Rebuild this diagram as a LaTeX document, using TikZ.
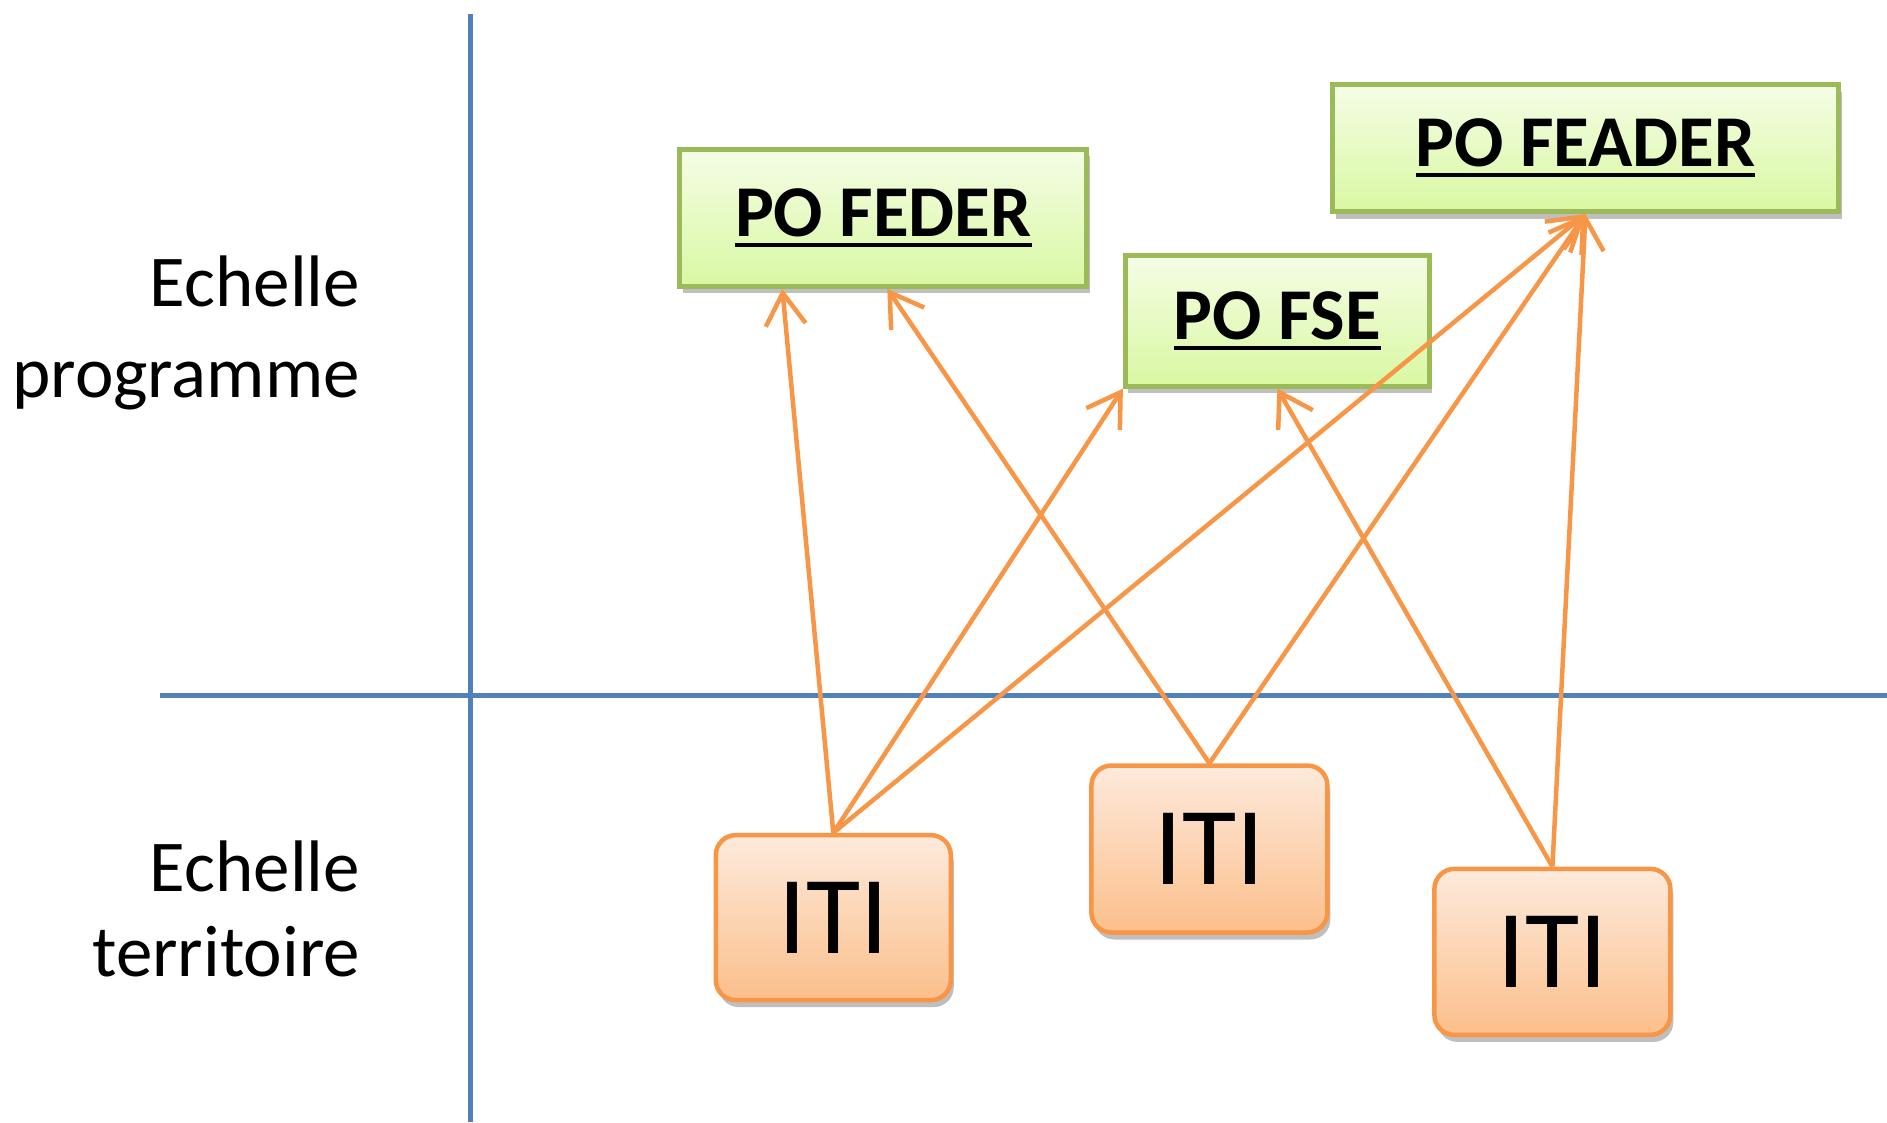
\documentclass[tikz,border=0pt]{standalone}
\usepackage{fontspec}
\setmainfont{Carlito}
\usetikzlibrary{arrows.meta,shadows}

\definecolor{axisblue}{HTML}{4F81BD}
\definecolor{progborder}{HTML}{9BBB59}
\definecolor{progtop}{HTML}{F5FDE6}
\definecolor{progbot}{HTML}{D9F8A2}
\definecolor{itiborder}{HTML}{F79646}
\definecolor{ititop}{HTML}{FDEADC}
\definecolor{itibot}{HTML}{FBBF8B}
\definecolor{linkorange}{HTML}{F79646}

% thick underline for the programme titles
\newcommand\thickul[1]{\leavevmode\vtop{\hbox{#1}\kern 6pt\hrule height 4.5pt}}

\tikzset{
  axis/.style={draw=axisblue, line width=4.5pt},
  scalelabel/.style={anchor=base east, inner sep=0pt, font=\fontsize{73}{86}\selectfont},
  progbox/.style={rectangle, draw=progborder, line width=5pt,
    top color=progtop, bottom color=progbot,
    inner sep=0pt, font=\fontsize{73}{86}\selectfont\bfseries,
    drop shadow={shadow xshift=3pt, shadow yshift=-7pt, opacity=0.25, fill=black}},
  itibox/.style={rectangle, rounded corners=20pt, draw=itiborder, line width=4.5pt,
    top color=ititop, bottom color=itibot,
    inner sep=0pt, font=\fontsize{111}{120}\selectfont,
    drop shadow={shadow xshift=3pt, shadow yshift=-7pt, opacity=0.25, fill=black}},
  link/.style={draw=linkorange, line width=4.5pt,
    -{Straight Barb[length=32pt,width=40pt,line width=4.5pt]}},
}

\begin{document}
\begin{tikzpicture}[x=1pt,y=-1pt]
\useasboundingbox (0,0) rectangle (1887,1122);

% axes
\coordinate (vtop) at (470.5,14);
\coordinate (vbot) at (470.5,1122);
\coordinate (hleft) at (160,695.6);
\coordinate (hright) at (1887,695.6);
\draw[axis] (vtop) -- (vbot);
\draw[axis] (hleft) -- (hright);

% scale labels
\node[scalelabel] (progA) at (360,306) {Echelle};
\node[scalelabel] (progB) at (360,397) {programme};
\node[scalelabel] (terrA) at (360,891) {Echelle};
\node[scalelabel] (terrB) at (360,976) {territoire};

% operational programmes
\node[progbox, minimum width=407pt, minimum height=137pt] (feder) at (883.3,217.8) {\thickul{PO FEDER}};
\node[progbox, minimum width=304pt, minimum height=131pt] (fse) at (1277.4,320.7) {\thickul{PO FSE}};
\node[progbox, minimum width=506pt, minimum height=127pt] (feader) at (1585.5,148) {\thickul{PO FEADER}};

% territorial investments
\node[itibox, minimum width=235pt, minimum height=165pt] (iti1) at (833.3,917.6) {ITI};
\node[itibox, minimum width=236pt, minimum height=167pt] (iti2) at (1209.4,849) {ITI};
\node[itibox, minimum width=236pt, minimum height=166pt] (iti3) at (1552.4,951.9) {ITI};

% links
\draw[link] (iti1.north) -- ([xshift=-101pt]feder.south);
\draw[link] (iti1.north) -- (fse.south west);
\draw[link] (iti1.north) -- (feader.south);
\draw[link] (iti2.north) -- ([xshift=4pt]feder.south);
\draw[link] (iti2.north) -- (feader.south);
\draw[link] (iti3.north) -- (fse.south);
\draw[link] (iti3.north) -- (feader.south);
\end{tikzpicture}
\end{document}
